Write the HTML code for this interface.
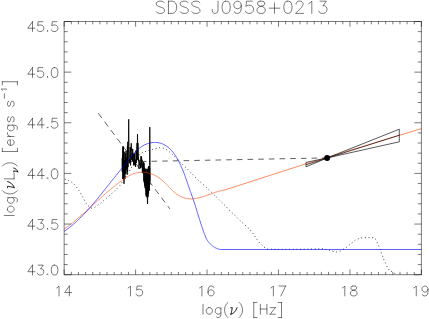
<!DOCTYPE html>
<html><head><meta charset="utf-8"><title>SDSS J0958+0213</title>
<style>
html,body{margin:0;padding:0;background:#fff;}
body{width:429px;height:319px;overflow:hidden;font-family:"Liberation Sans",sans-serif;}
svg{display:block;}
</style></head><body>
<svg width="429" height="319" viewBox="0 0 429 319">
<rect width="429" height="319" fill="#fff"/>
<!-- spectrum -->
<path d="M122.10 158.13 L122.27 171.83 L122.51 155.16 L122.73 168.84 L122.95 147.25 L122.86 178.94 L123.06 146.00 L123.26 178.94 L123.21 178.94 L123.39 148.27 L123.64 172.06 L123.88 161.14 L123.80 174.67 L124.00 183.80 L124.20 174.67 L124.06 174.67 L124.24 151.70 L124.50 174.61 L124.70 160.12 L124.88 178.87 L125.11 160.85 L125.32 173.75 L125.58 152.93 L125.81 173.26 L126.07 150.89 L126.28 170.06 L126.53 159.51 L126.73 167.22 L126.94 157.27 L127.13 174.78 L127.40 145.87 L127.62 171.87 L127.56 152.07 L127.76 141.80 L127.96 152.07 L127.83 152.07 L128.04 167.17 L128.22 163.75 L128.46 149.37 L128.40 146.51 L128.70 119.30 L129.00 146.51 L128.72 146.51 L128.98 148.85 L129.22 162.41 L129.46 159.27 L129.72 163.27 L129.99 151.19 L130.19 146.89 L130.41 163.97 L130.58 165.40 L130.83 149.98 L131.04 147.43 L131.05 151.40 L131.25 143.20 L131.45 151.40 L131.29 151.40 L131.54 159.32 L131.78 158.37 L132.02 160.28 L132.22 152.92 L132.43 161.21 L132.67 148.81 L132.90 151.94 L133.15 154.41 L133.35 153.76 L133.55 157.91 L133.73 165.45 L134.00 154.24 L134.23 164.11 L134.46 153.24 L134.72 165.31 L134.93 160.78 L135.13 164.40 L135.37 159.68 L135.59 167.03 L135.80 158.62 L136.03 150.43 L136.29 163.06 L136.49 161.19 L136.72 158.11 L136.98 151.02 L137.22 160.15 L137.45 153.41 L136.55 159.45 L137.07 142.97 L137.12 158.45 L137.50 134.10 L137.88 158.45 L137.93 142.97 L138.45 159.45 L137.63 159.45 L137.89 157.38 L138.12 159.07 L138.36 157.53 L138.56 160.92 L138.80 159.51 L139.01 168.92 L139.28 160.37 L139.51 162.63 L139.71 164.78 L139.91 163.88 L140.11 165.75 L140.36 164.52 L140.55 168.25 L140.74 159.18 L140.94 156.23 L141.18 167.60 L141.44 156.38 L141.61 157.21 L141.83 164.11 L142.06 159.73 L142.29 172.74 L142.55 172.96 L142.77 163.34 L142.96 171.91 L143.15 163.59 L143.40 173.47 L143.66 161.98 L143.84 181.17 L144.05 163.20 L144.24 182.90 L144.46 167.63 L144.65 185.63 L144.89 168.93 L145.06 187.92 L145.27 170.13 L145.45 189.40 L145.71 168.77 L145.98 195.50 L146.19 168.83 L146.39 196.83 L146.62 172.28 L146.81 196.85 L147.05 173.60 L147.25 197.52 L147.45 168.81 L147.20 194.82 L147.50 204.00 L147.80 194.82 L147.68 194.82 L147.92 169.73 L148.17 196.68 L148.37 166.71 L148.56 193.48 L148.78 166.10 L148.96 190.97 L149.18 166.91 L149.36 190.18 L149.59 167.70 L149.80 184.69 L149.50 165.68 L149.80 127.10 L150.10 165.68 L150.06 165.68 L150.24 181.10" fill="none" stroke="#000" stroke-width="0.85" stroke-linejoin="miter" stroke-miterlimit="20"/>
<!-- model curves -->
<path d="M64.90 179.20 L68.20 180.20 L71.30 182.00 L74.10 184.10 L76.70 187.40 L78.80 190.50 L80.80 193.70 L82.60 196.80 L84.30 199.90 L86.10 203.20 L88.20 205.70 L91.30 208.10 L94.60 207.40 L97.40 205.30 L100.50 203.50 L103.10 201.10 L105.90 198.70 L108.70 196.10 L111.50 193.70 L114.40 191.20 L117.20 188.40 L120.00 185.50 L130.00 170.00 L140.40 153.40 L143.90 152.00 L148.10 150.60 L152.40 149.50 L155.90 148.50 L159.40 147.70 L163.60 148.30 L167.20 150.00 L170.70 153.00 L174.50 156.40 L178.20 160.10 L182.90 164.80 L187.60 169.20 L193.30 175.20 L198.90 180.80 L206.50 187.50 L215.90 196.50 L225.30 205.80 L230.50 211.50 L235.20 215.60 L239.90 220.40 L244.60 224.70 L249.30 228.80 L253.10 233.50 L255.90 237.90 L259.60 242.90 L263.40 246.70 L267.20 249.00 L275.00 249.40 L300.00 249.30 L318.00 248.80 L324.00 248.80 L329.60 250.40 L333.40 251.50 L336.60 251.90 L340.40 251.00 L343.60 249.10 L346.60 247.20 L349.40 244.80 L352.60 242.30 L355.40 240.10 L358.60 238.60 L362.40 237.80 L366.10 237.60 L369.90 237.60 L373.70 237.80 L376.10 239.70 L377.40 242.90 L378.90 246.30 L380.30 249.50 L381.40 253.20 L382.70 256.60 L384.20 260.40 L385.90 264.00 L387.40 267.40 L389.30 270.20 L392.10 271.80 L394.90 273.60 L396.00 274.30" fill="none" stroke="#000" stroke-width="0.85" stroke-dasharray="0.85 2.8" stroke-linecap="butt"/>
<path d="M64.22 229.10 L64.75 228.71 L65.27 228.33 L65.79 227.95 L66.30 227.56 L66.82 227.18 L67.33 226.79 L67.85 226.40 L68.36 226.01 L68.86 225.62 L69.37 225.23 L69.88 224.83 L70.38 224.44 L70.89 224.04 L71.39 223.64 L71.89 223.24 L72.39 222.84 L72.88 222.44 L73.38 222.04 L73.87 221.63 L74.37 221.23 L74.86 220.82 L75.35 220.42 L75.84 220.01 L76.33 219.60 L76.82 219.19 L77.30 218.78 L77.79 218.37 L78.27 217.96 L78.75 217.55 L79.24 217.13 L79.72 216.72 L80.20 216.30 L80.68 215.89 L81.16 215.47 L81.64 215.06 L82.11 214.64 L82.59 214.22 L83.07 213.80 L83.54 213.38 L84.02 212.96 L84.49 212.54 L84.96 212.12 L85.44 211.70 L85.91 211.28 L86.38 210.85 L86.85 210.43 L87.32 210.01 L87.79 209.59 L88.27 209.16 L88.74 208.74 L89.21 208.31 L89.67 207.89 L90.14 207.46 L90.61 207.04 L91.08 206.61 L91.55 206.19 L92.02 205.76 L92.49 205.34 L92.96 204.91 L93.43 204.49 L93.89 204.06 L94.36 203.64 L94.83 203.21 L95.30 202.79 L95.77 202.36 L96.24 201.94 L96.71 201.51 L97.18 201.08 L97.65 200.66 L98.12 200.24 L98.59 199.81 L99.06 199.39 L99.53 198.96 L100.01 198.54 L100.48 198.12 L100.95 197.69 L101.43 197.27 L101.90 196.85 L102.38 196.43 L102.85 196.01 L103.33 195.59 L103.80 195.16 L104.28 194.75 L104.76 194.33 L105.24 193.91 L105.72 193.49 L106.20 193.07 L106.68 192.66 L107.16 192.24 L107.65 191.82 L108.13 191.41 L108.62 190.99 L109.11 190.58 L109.59 190.17 L110.08 189.76 L110.57 189.35 L111.06 188.94 L111.56 188.53 L112.05 188.12 L112.54 187.71 L113.04 187.31 L113.54 186.90 L114.04 186.50 L114.54 186.09 L115.04 185.69 L115.54 185.29 L116.05 184.89 L116.55 184.49 L117.06 184.10 L117.57 183.70 L118.08 183.30 L118.60 182.91 L119.11 182.52 L119.63 182.13 L120.14 181.74 L120.66 181.35 L121.19 180.96 L121.71 180.58 L122.23 180.20 L122.76 179.82 L123.29 179.45 L123.82 179.08 L124.36 178.71 L124.90 178.36 L125.43 178.00 L125.98 177.66 L126.52 177.32 L127.07 176.98 L127.62 176.66 L128.17 176.34 L128.73 176.03 L129.29 175.73 L129.85 175.44 L130.41 175.16 L130.98 174.89 L131.55 174.63 L132.13 174.38 L132.70 174.14 L133.29 173.91 L133.87 173.70 L134.46 173.50 L135.05 173.32 L135.65 173.14 L136.25 172.99 L136.85 172.84 L137.46 172.71 L138.07 172.60 L138.69 172.51 L139.31 172.43 L139.93 172.36 L140.56 172.31 L141.19 172.28 L141.82 172.26 L142.45 172.26 L143.08 172.28 L143.72 172.31 L144.35 172.35 L144.98 172.41 L145.61 172.48 L146.25 172.57 L146.88 172.68 L147.50 172.79 L148.13 172.93 L148.75 173.07 L149.37 173.23 L149.98 173.41 L150.59 173.60 L151.19 173.80 L151.79 174.01 L152.38 174.24 L152.97 174.48 L153.55 174.74 L154.13 175.01 L154.69 175.29 L155.26 175.58 L155.81 175.88 L156.36 176.20 L156.91 176.52 L157.45 176.86 L157.98 177.20 L158.51 177.56 L159.03 177.92 L159.55 178.30 L160.07 178.68 L160.57 179.07 L161.08 179.47 L161.58 179.87 L162.07 180.28 L162.56 180.70 L163.05 181.13 L163.53 181.56 L164.01 182.00 L164.48 182.44 L164.95 182.89 L165.42 183.34 L165.88 183.80 L166.34 184.26 L166.79 184.72 L167.24 185.19 L167.69 185.66 L168.14 186.13 L168.59 186.60 L169.04 187.07 L169.48 187.54 L169.93 188.01 L170.38 188.48 L170.82 188.94 L171.27 189.40 L171.73 189.86 L172.18 190.31 L172.64 190.76 L173.11 191.20 L173.58 191.63 L174.05 192.05 L174.53 192.47 L175.02 192.88 L175.51 193.27 L176.01 193.66 L176.52 194.04 L177.04 194.40 L177.56 194.75 L178.10 195.09 L178.64 195.42 L179.19 195.73 L179.74 196.03 L180.30 196.32 L180.87 196.59 L181.44 196.85 L182.02 197.09 L182.60 197.32 L183.19 197.54 L183.78 197.74 L184.38 197.92 L184.98 198.09 L185.58 198.24 L186.19 198.38 L186.80 198.50 L187.41 198.60 L188.02 198.68 L188.63 198.75 L189.25 198.80 L189.87 198.84 L190.48 198.86 L191.10 198.86 L191.72 198.85 L192.35 198.82 L192.97 198.78 L193.59 198.73 L194.21 198.67 L194.84 198.59 L195.47 198.50 L196.09 198.40 L196.72 198.29 L197.34 198.16 L197.97 198.03 L198.60 197.89 L199.23 197.74 L199.86 197.58 L200.49 197.41 L201.11 197.24 L201.74 197.06 L202.37 196.87 L203.00 196.68 L203.63 196.48 L204.26 196.27 L204.88 196.06 L205.51 195.85 L206.14 195.63 L206.76 195.42 L207.39 195.19 L208.01 194.97 L208.64 194.75 L209.26 194.52 L209.88 194.29 L210.50 194.07 L211.12 193.84 L211.74 193.62 L212.36 193.39 L212.98 193.17 L213.59 192.95 L214.20 192.73 L214.82 192.52 L215.43 192.31 L216.04 192.11 L216.64 191.91 L217.25 191.72 L217.85 191.53 L218.46 191.35 L219.06 191.17 L219.65 191.00 L220.25 190.84 L220.84 190.69 L221.44 190.55 L222.02 190.42 L222.61 190.29 L223.20 190.18 L223.78 190.08 L224.36 189.99 L224.93 189.91 L305 164.1 L421.5 128.6" fill="none" stroke="#ff4500" stroke-width="0.62" stroke-linejoin="round"/>
<path d="M64.21 231.41 L65.22 230.69 L66.22 229.97 L67.21 229.23 L68.18 228.49 L69.15 227.74 L70.11 226.97 L71.07 226.20 L72.01 225.41 L72.95 224.62 L73.88 223.82 L74.80 223.01 L75.71 222.20 L76.61 221.37 L77.51 220.54 L78.40 219.70 L79.29 218.85 L80.16 218.00 L81.04 217.14 L81.90 216.27 L82.76 215.39 L83.61 214.51 L84.46 213.62 L85.30 212.73 L86.14 211.83 L86.97 210.93 L87.79 210.02 L88.61 209.11 L89.43 208.19 L90.24 207.27 L91.05 206.34 L91.86 205.41 L92.66 204.48 L93.45 203.54 L94.25 202.60 L95.03 201.66 L95.82 200.71 L96.61 199.76 L97.39 198.81 L98.17 197.86 L98.94 196.90 L99.72 195.94 L100.49 194.98 L101.26 194.02 L102.03 193.06 L102.79 192.10 L103.56 191.14 L104.32 190.18 L105.09 189.21 L105.85 188.25 L106.62 187.29 L107.38 186.33 L108.14 185.37 L108.90 184.41 L109.67 183.45 L110.43 182.49 L111.19 181.54 L111.96 180.58 L112.72 179.63 L113.49 178.68 L114.25 177.73 L115.02 176.78 L115.79 175.83 L116.56 174.88 L117.32 173.93 L118.09 172.98 L118.86 172.03 L119.63 171.08 L120.40 170.13 L121.17 169.18 L121.94 168.22 L122.71 167.27 L123.48 166.31 L124.25 165.36 L125.02 164.40 L125.79 163.44 L126.57 162.47 L127.34 161.51 L128.11 160.54 L128.88 159.57 L129.66 158.60 L130.43 157.62 L131.21 156.66 L132.00 155.70 L132.80 154.75 L133.61 153.82 L134.43 152.90 L135.27 152.00 L136.13 151.12 L137.00 150.27 L137.90 149.44 L138.81 148.65 L139.76 147.89 L140.73 147.17 L141.73 146.48 L142.76 145.84 L143.83 145.25 L144.93 144.70 L146.06 144.21 L147.22 143.77 L148.40 143.38 L149.60 143.06 L150.82 142.80 L152.04 142.60 L153.27 142.47 L154.50 142.41 L155.72 142.42 L156.93 142.51 L158.13 142.67 L159.31 142.91 L160.47 143.21 L161.61 143.59 L162.73 144.03 L163.82 144.53 L164.89 145.09 L165.93 145.71 L166.93 146.38 L167.90 147.11 L168.84 147.88 L169.74 148.70 L170.62 149.56 L171.46 150.45 L172.28 151.38 L173.06 152.35 L173.82 153.34 L174.56 154.36 L175.26 155.40 L175.95 156.46 L176.61 157.53 L177.25 158.62 L177.86 159.71 L178.46 160.81 L179.04 161.92 L179.60 163.03 L180.14 164.14 L180.66 165.25 L181.17 166.37 L181.67 167.49 L182.15 168.62 L182.62 169.75 L183.07 170.88 L183.52 172.01 L183.96 173.14 L184.38 174.28 L184.80 175.42 L185.22 176.56 L185.62 177.71 L186.03 178.85 L186.43 180.00 L186.82 181.15 L187.22 182.30 L187.61 183.45 L188.00 184.60 L188.40 185.75 L188.79 186.91 L189.19 188.06 L189.59 189.22 L190.00 190.37 L190.41 191.53 L190.83 192.69 L191.24 193.84 L191.66 195.00 L192.08 196.16 L192.49 197.32 L192.90 198.48 L193.30 199.65 L193.69 200.81 L194.08 201.98 L194.46 203.15 L194.84 204.32 L195.22 205.49 L195.59 206.66 L195.96 207.83 L196.32 209.01 L196.68 210.18 L197.04 211.35 L197.40 212.53 L197.76 213.70 L198.12 214.87 L198.48 216.04 L198.84 217.22 L199.21 218.39 L199.57 219.56 L199.94 220.73 L200.31 221.90 L200.68 223.07 L201.06 224.23 L201.44 225.40 L201.83 226.56 L202.22 227.72 L202.62 228.88 L203.03 230.04 L203.44 231.19 L203.86 232.35 L204.29 233.50 L204.73 234.64 L205.18 235.79 L205.64 236.93 L206.11 238.07 L206.59 239.20 M206.61 239.20 L206.86 239.59 L207.12 239.97 L207.39 240.36 L207.66 240.74 L207.94 241.12 L208.23 241.50 L208.52 241.87 L208.82 242.24 L209.12 242.61 L209.44 242.97 L209.75 243.32 L210.08 243.67 L210.41 244.01 L210.74 244.35 L211.09 244.67 L211.43 245.00 L211.79 245.31 L212.15 245.62 L212.52 245.91 L212.89 246.20 L213.27 246.48 L213.65 246.75 L214.04 247.01 L214.44 247.26 L214.84 247.50 L215.25 247.73 L215.67 247.94 L216.09 248.15 L216.52 248.34 L216.95 248.52 L217.39 248.68 L217.83 248.83 L218.28 248.97 L218.74 249.10 L219.20 249.21 L219.67 249.30 L220.14 249.38 L220.62 249.45 L221.11 249.49 L230 249.5 L421.5 249.5" fill="none" stroke="#0000ff" stroke-width="0.62" stroke-linejoin="round"/>
<!-- dashed lines -->
<path d="M98.2 113.2 L169.8 208.8" fill="none" stroke="#000" stroke-width="0.62" stroke-dasharray="6.1 4.45"/>
<path d="M130.2 161.7 L327.3 157.9" fill="none" stroke="#000" stroke-width="0.62" stroke-dasharray="5.6 5.07"/>
<!-- x-ray bowtie -->
<path d="M306 162.4 L327.3 157.9 L399.3 141.8 L399.3 129.2 L327.3 157.9 L306 166.8 Z M306 164.8 L399.3 135.2" fill="none" stroke="#000" stroke-width="0.65"/>
<circle cx="327.1" cy="157.9" r="3" fill="#000"/>
<!-- axes -->
<path d="M64.15 21.50 H421.40 V274.70 H64.15 Z M64.15 274.70 v-5.20 M64.15 21.50 v5.20 M71.30 274.70 v-2.80 M71.30 21.50 v2.80 M78.44 274.70 v-2.80 M78.44 21.50 v2.80 M85.59 274.70 v-2.80 M85.59 21.50 v2.80 M92.73 274.70 v-2.80 M92.73 21.50 v2.80 M99.88 274.70 v-2.80 M99.88 21.50 v2.80 M107.02 274.70 v-2.80 M107.02 21.50 v2.80 M114.17 274.70 v-2.80 M114.17 21.50 v2.80 M121.31 274.70 v-2.80 M121.31 21.50 v2.80 M128.46 274.70 v-2.80 M128.46 21.50 v2.80 M135.60 274.70 v-5.20 M135.60 21.50 v5.20 M142.75 274.70 v-2.80 M142.75 21.50 v2.80 M149.89 274.70 v-2.80 M149.89 21.50 v2.80 M157.04 274.70 v-2.80 M157.04 21.50 v2.80 M164.18 274.70 v-2.80 M164.18 21.50 v2.80 M171.32 274.70 v-2.80 M171.32 21.50 v2.80 M178.47 274.70 v-2.80 M178.47 21.50 v2.80 M185.62 274.70 v-2.80 M185.62 21.50 v2.80 M192.76 274.70 v-2.80 M192.76 21.50 v2.80 M199.91 274.70 v-2.80 M199.91 21.50 v2.80 M207.05 274.70 v-5.20 M207.05 21.50 v5.20 M214.19 274.70 v-2.80 M214.19 21.50 v2.80 M221.34 274.70 v-2.80 M221.34 21.50 v2.80 M228.49 274.70 v-2.80 M228.49 21.50 v2.80 M235.63 274.70 v-2.80 M235.63 21.50 v2.80 M242.78 274.70 v-2.80 M242.78 21.50 v2.80 M249.92 274.70 v-2.80 M249.92 21.50 v2.80 M257.06 274.70 v-2.80 M257.06 21.50 v2.80 M264.21 274.70 v-2.80 M264.21 21.50 v2.80 M271.36 274.70 v-2.80 M271.36 21.50 v2.80 M278.50 274.70 v-5.20 M278.50 21.50 v5.20 M285.64 274.70 v-2.80 M285.64 21.50 v2.80 M292.79 274.70 v-2.80 M292.79 21.50 v2.80 M299.94 274.70 v-2.80 M299.94 21.50 v2.80 M307.08 274.70 v-2.80 M307.08 21.50 v2.80 M314.23 274.70 v-2.80 M314.23 21.50 v2.80 M321.37 274.70 v-2.80 M321.37 21.50 v2.80 M328.51 274.70 v-2.80 M328.51 21.50 v2.80 M335.66 274.70 v-2.80 M335.66 21.50 v2.80 M342.80 274.70 v-2.80 M342.80 21.50 v2.80 M349.95 274.70 v-5.20 M349.95 21.50 v5.20 M357.10 274.70 v-2.80 M357.10 21.50 v2.80 M364.24 274.70 v-2.80 M364.24 21.50 v2.80 M371.38 274.70 v-2.80 M371.38 21.50 v2.80 M378.53 274.70 v-2.80 M378.53 21.50 v2.80 M385.67 274.70 v-2.80 M385.67 21.50 v2.80 M392.82 274.70 v-2.80 M392.82 21.50 v2.80 M399.97 274.70 v-2.80 M399.97 21.50 v2.80 M407.11 274.70 v-2.80 M407.11 21.50 v2.80 M414.25 274.70 v-2.80 M414.25 21.50 v2.80 M421.40 274.70 v-5.20 M421.40 21.50 v5.20 M64.15 274.70 h7.10 M421.40 274.70 h-7.10 M64.15 264.57 h3.60 M421.40 264.57 h-3.60 M64.15 254.44 h3.60 M421.40 254.44 h-3.60 M64.15 244.32 h3.60 M421.40 244.32 h-3.60 M64.15 234.19 h3.60 M421.40 234.19 h-3.60 M64.15 224.06 h7.10 M421.40 224.06 h-7.10 M64.15 213.93 h3.60 M421.40 213.93 h-3.60 M64.15 203.80 h3.60 M421.40 203.80 h-3.60 M64.15 193.68 h3.60 M421.40 193.68 h-3.60 M64.15 183.55 h3.60 M421.40 183.55 h-3.60 M64.15 173.42 h7.10 M421.40 173.42 h-7.10 M64.15 163.29 h3.60 M421.40 163.29 h-3.60 M64.15 153.16 h3.60 M421.40 153.16 h-3.60 M64.15 143.04 h3.60 M421.40 143.04 h-3.60 M64.15 132.91 h3.60 M421.40 132.91 h-3.60 M64.15 122.78 h7.10 M421.40 122.78 h-7.10 M64.15 112.65 h3.60 M421.40 112.65 h-3.60 M64.15 102.52 h3.60 M421.40 102.52 h-3.60 M64.15 92.40 h3.60 M421.40 92.40 h-3.60 M64.15 82.27 h3.60 M421.40 82.27 h-3.60 M64.15 72.14 h7.10 M421.40 72.14 h-7.10 M64.15 62.01 h3.60 M421.40 62.01 h-3.60 M64.15 51.88 h3.60 M421.40 51.88 h-3.60 M64.15 41.76 h3.60 M421.40 41.76 h-3.60 M64.15 31.63 h3.60 M421.40 31.63 h-3.60 M64.15 21.50 h7.10 M421.40 21.50 h-7.10" fill="none" stroke="#000" stroke-width="0.52"/>
<!-- text -->
<path d="M164.40 2.91 L163.24 1.75 L161.49 1.17 L159.16 1.17 L157.41 1.75 L156.25 2.91 L156.25 4.08 L156.83 5.24 L157.41 5.83 L158.58 6.41 L162.07 7.57 L163.24 8.16 L163.82 8.74 L164.40 9.90 L164.40 11.65 L163.24 12.82 L161.49 13.40 L159.16 13.40 L157.41 12.82 L156.25 11.65 M168.48 1.17 L168.48 13.40 M168.48 1.17 L172.56 1.17 L174.31 1.75 L175.47 2.91 L176.06 4.08 L176.64 5.83 L176.64 8.74 L176.06 10.49 L175.47 11.65 L174.31 12.82 L172.56 13.40 L168.48 13.40 M188.29 2.91 L187.13 1.75 L185.38 1.17 L183.05 1.17 L181.30 1.75 L180.13 2.91 L180.13 4.08 L180.72 5.24 L181.30 5.83 L182.46 6.41 L185.96 7.57 L187.13 8.16 L187.71 8.74 L188.29 9.90 L188.29 11.65 L187.13 12.82 L185.38 13.40 L183.05 13.40 L181.30 12.82 L180.13 11.65 M199.94 2.91 L198.78 1.75 L197.03 1.17 L194.70 1.17 L192.95 1.75 L191.79 2.91 L191.79 4.08 L192.37 5.24 L192.95 5.83 L194.12 6.41 L197.61 7.57 L198.78 8.16 L199.36 8.74 L199.94 9.90 L199.94 11.65 L198.78 12.82 L197.03 13.40 L194.70 13.40 L192.95 12.82 L191.79 11.65 M218.00 1.17 L218.00 10.49 L217.42 12.23 L216.84 12.82 L215.67 13.40 L214.51 13.40 L213.34 12.82 L212.76 12.23 L212.18 10.49 L212.18 9.32 M225.58 1.17 L223.83 1.75 L222.66 3.50 L222.08 6.41 L222.08 8.16 L222.66 11.07 L223.83 12.82 L225.58 13.40 L226.74 13.40 L228.49 12.82 L229.66 11.07 L230.24 8.16 L230.24 6.41 L229.66 3.50 L228.49 1.75 L226.74 1.17 L225.58 1.17 M241.31 5.24 L240.72 6.99 L239.56 8.16 L237.81 8.74 L237.23 8.74 L235.48 8.16 L234.32 6.99 L233.73 5.24 L233.73 4.66 L234.32 2.91 L235.48 1.75 L237.23 1.17 L237.81 1.17 L239.56 1.75 L240.72 2.91 L241.31 5.24 L241.31 8.16 L240.72 11.07 L239.56 12.82 L237.81 13.40 L236.65 13.40 L234.90 12.82 L234.32 11.65 M252.38 1.17 L246.55 1.17 L245.97 6.41 L246.55 5.83 L248.30 5.24 L250.05 5.24 L251.79 5.83 L252.96 6.99 L253.54 8.74 L253.54 9.90 L252.96 11.65 L251.79 12.82 L250.05 13.40 L248.30 13.40 L246.55 12.82 L245.97 12.23 L245.39 11.07 M259.95 1.17 L258.20 1.75 L257.62 2.91 L257.62 4.08 L258.20 5.24 L259.37 5.83 L261.70 6.41 L263.45 6.99 L264.61 8.16 L265.19 9.32 L265.19 11.07 L264.61 12.23 L264.03 12.82 L262.28 13.40 L259.95 13.40 L258.20 12.82 L257.62 12.23 L257.04 11.07 L257.04 9.32 L257.62 8.16 L258.79 6.99 L260.53 6.41 L262.86 5.83 L264.03 5.24 L264.61 4.08 L264.61 2.91 L264.03 1.75 L262.28 1.17 L259.95 1.17 M274.52 2.91 L274.52 13.40 M269.27 8.16 L279.76 8.16 M287.33 1.17 L285.58 1.75 L284.42 3.50 L283.84 6.41 L283.84 8.16 L284.42 11.07 L285.58 12.82 L287.33 13.40 L288.50 13.40 L290.25 12.82 L291.41 11.07 L291.99 8.16 L291.99 6.41 L291.41 3.50 L290.25 1.75 L288.50 1.17 L287.33 1.17 M296.07 4.08 L296.07 3.50 L296.65 2.33 L297.24 1.75 L298.40 1.17 L300.73 1.17 L301.90 1.75 L302.48 2.33 L303.06 3.50 L303.06 4.66 L302.48 5.83 L301.32 7.57 L295.49 13.40 L303.65 13.40 M308.89 3.50 L310.05 2.91 L311.80 1.17 L311.80 13.40 M319.96 1.17 L326.37 1.17 L322.87 5.83 L324.62 5.83 L325.78 6.41 L326.37 6.99 L326.95 8.74 L326.95 9.90 L326.37 11.65 L325.20 12.82 L323.45 13.40 L321.71 13.40 L319.96 12.82 L319.38 12.23 L318.79 11.07 M56.67 287.91 L57.61 287.44 L59.02 286.03 L59.02 295.90 M69.36 286.03 L64.66 292.61 L71.71 292.61 M69.36 286.03 L69.36 295.90 M128.12 287.91 L129.06 287.44 L130.47 286.03 L130.47 295.90 M141.75 286.03 L137.05 286.03 L136.58 290.26 L137.05 289.79 L138.46 289.32 L139.87 289.32 L141.28 289.79 L142.22 290.73 L142.69 292.14 L142.69 293.08 L142.22 294.49 L141.28 295.43 L139.87 295.90 L138.46 295.90 L137.05 295.43 L136.58 294.96 L136.11 294.02 M199.57 287.91 L200.51 287.44 L201.92 286.03 L201.92 295.90 M213.67 287.44 L213.20 286.50 L211.79 286.03 L210.85 286.03 L209.44 286.50 L208.50 287.91 L208.03 290.26 L208.03 292.61 L208.50 294.49 L209.44 295.43 L210.85 295.90 L211.32 295.90 L212.73 295.43 L213.67 294.49 L214.14 293.08 L214.14 292.61 L213.67 291.20 L212.73 290.26 L211.32 289.79 L210.85 289.79 L209.44 290.26 L208.50 291.20 L208.03 292.61 M271.02 287.91 L271.96 287.44 L273.37 286.03 L273.37 295.90 M285.59 286.03 L280.89 295.90 M279.01 286.03 L285.59 286.03 M342.47 287.91 L343.41 287.44 L344.82 286.03 L344.82 295.90 M352.81 286.03 L351.40 286.50 L350.93 287.44 L350.93 288.38 L351.40 289.32 L352.34 289.79 L354.22 290.26 L355.63 290.73 L356.57 291.67 L357.04 292.61 L357.04 294.02 L356.57 294.96 L356.10 295.43 L354.69 295.90 L352.81 295.90 L351.40 295.43 L350.93 294.96 L350.46 294.02 L350.46 292.61 L350.93 291.67 L351.87 290.73 L353.28 290.26 L355.16 289.79 L356.10 289.32 L356.57 288.38 L356.57 287.44 L356.10 286.50 L354.69 286.03 L352.81 286.03 M413.92 287.91 L414.86 287.44 L416.27 286.03 L416.27 295.90 M428.02 289.32 L427.55 290.73 L426.61 291.67 L425.20 292.14 L424.73 292.14 L423.32 291.67 L422.38 290.73 L421.91 289.32 L421.91 288.85 L422.38 287.44 L423.32 286.50 L424.73 286.03 L425.20 286.03 L426.61 286.50 L427.55 287.44 L428.02 289.32 L428.02 291.67 L427.55 294.02 L426.61 295.43 L425.20 295.90 L424.26 295.90 L422.85 295.43 L422.38 294.49 M32.51 265.13 L27.81 271.71 L34.86 271.71 M32.51 265.13 L32.51 275.00 M38.15 265.13 L43.32 265.13 L40.50 268.89 L41.91 268.89 L42.85 269.36 L43.32 269.83 L43.79 271.24 L43.79 272.18 L43.32 273.59 L42.38 274.53 L40.97 275.00 L39.56 275.00 L38.15 274.53 L37.68 274.06 L37.21 273.12 M47.55 274.06 L47.08 274.53 L47.55 275.00 L48.02 274.53 L47.55 274.06 M54.13 265.13 L52.72 265.60 L51.78 267.01 L51.31 269.36 L51.31 270.77 L51.78 273.12 L52.72 274.53 L54.13 275.00 L55.07 275.00 L56.48 274.53 L57.42 273.12 L57.89 270.77 L57.89 269.36 L57.42 267.01 L56.48 265.60 L55.07 265.13 L54.13 265.13 M32.51 219.54 L27.81 226.12 L34.86 226.12 M32.51 219.54 L32.51 229.41 M38.15 219.54 L43.32 219.54 L40.50 223.30 L41.91 223.30 L42.85 223.77 L43.32 224.24 L43.79 225.65 L43.79 226.59 L43.32 228.00 L42.38 228.94 L40.97 229.41 L39.56 229.41 L38.15 228.94 L37.68 228.47 L37.21 227.53 M47.55 228.47 L47.08 228.94 L47.55 229.41 L48.02 228.94 L47.55 228.47 M56.95 219.54 L52.25 219.54 L51.78 223.77 L52.25 223.30 L53.66 222.83 L55.07 222.83 L56.48 223.30 L57.42 224.24 L57.89 225.65 L57.89 226.59 L57.42 228.00 L56.48 228.94 L55.07 229.41 L53.66 229.41 L52.25 228.94 L51.78 228.47 L51.31 227.53 M32.51 168.90 L27.81 175.48 L34.86 175.48 M32.51 168.90 L32.51 178.77 M41.91 168.90 L37.21 175.48 L44.26 175.48 M41.91 168.90 L41.91 178.77 M47.55 177.83 L47.08 178.30 L47.55 178.77 L48.02 178.30 L47.55 177.83 M54.13 168.90 L52.72 169.37 L51.78 170.78 L51.31 173.13 L51.31 174.54 L51.78 176.89 L52.72 178.30 L54.13 178.77 L55.07 178.77 L56.48 178.30 L57.42 176.89 L57.89 174.54 L57.89 173.13 L57.42 170.78 L56.48 169.37 L55.07 168.90 L54.13 168.90 M32.51 118.26 L27.81 124.84 L34.86 124.84 M32.51 118.26 L32.51 128.13 M41.91 118.26 L37.21 124.84 L44.26 124.84 M41.91 118.26 L41.91 128.13 M47.55 127.19 L47.08 127.66 L47.55 128.13 L48.02 127.66 L47.55 127.19 M56.95 118.26 L52.25 118.26 L51.78 122.49 L52.25 122.02 L53.66 121.55 L55.07 121.55 L56.48 122.02 L57.42 122.96 L57.89 124.37 L57.89 125.31 L57.42 126.72 L56.48 127.66 L55.07 128.13 L53.66 128.13 L52.25 127.66 L51.78 127.19 L51.31 126.25 M32.51 67.62 L27.81 74.20 L34.86 74.20 M32.51 67.62 L32.51 77.49 M42.85 67.62 L38.15 67.62 L37.68 71.85 L38.15 71.38 L39.56 70.91 L40.97 70.91 L42.38 71.38 L43.32 72.32 L43.79 73.73 L43.79 74.67 L43.32 76.08 L42.38 77.02 L40.97 77.49 L39.56 77.49 L38.15 77.02 L37.68 76.55 L37.21 75.61 M47.55 76.55 L47.08 77.02 L47.55 77.49 L48.02 77.02 L47.55 76.55 M54.13 67.62 L52.72 68.09 L51.78 69.50 L51.31 71.85 L51.31 73.26 L51.78 75.61 L52.72 77.02 L54.13 77.49 L55.07 77.49 L56.48 77.02 L57.42 75.61 L57.89 73.26 L57.89 71.85 L57.42 69.50 L56.48 68.09 L55.07 67.62 L54.13 67.62 M32.51 21.68 L27.81 28.26 L34.86 28.26 M32.51 21.68 L32.51 31.55 M42.85 21.68 L38.15 21.68 L37.68 25.91 L38.15 25.44 L39.56 24.97 L40.97 24.97 L42.38 25.44 L43.32 26.38 L43.79 27.79 L43.79 28.73 L43.32 30.14 L42.38 31.08 L40.97 31.55 L39.56 31.55 L38.15 31.08 L37.68 30.61 L37.21 29.67 M47.55 30.61 L47.08 31.08 L47.55 31.55 L48.02 31.08 L47.55 30.61 M56.95 21.68 L52.25 21.68 L51.78 25.91 L52.25 25.44 L53.66 24.97 L55.07 24.97 L56.48 25.44 L57.42 26.38 L57.89 27.79 L57.89 28.73 L57.42 30.14 L56.48 31.08 L55.07 31.55 L53.66 31.55 L52.25 31.08 L51.78 30.61 L51.31 29.67 M203.00 304.33 L203.00 314.20 M208.64 307.62 L207.70 308.09 L206.76 309.03 L206.29 310.44 L206.29 311.38 L206.76 312.79 L207.70 313.73 L208.64 314.20 L210.06 314.20 L211.00 313.73 L211.94 312.79 L212.41 311.38 L212.41 310.44 L211.94 309.03 L211.00 308.09 L210.06 307.62 L208.64 307.62 M220.87 307.62 L220.87 315.14 L220.40 316.55 L219.93 317.02 L218.99 317.49 L217.57 317.49 L216.63 317.02 M220.87 309.03 L219.93 308.09 L218.99 307.62 L217.57 307.62 L216.63 308.09 L215.69 309.03 L215.22 310.44 L215.22 311.38 L215.69 312.79 L216.63 313.73 L217.57 314.20 L218.99 314.20 L219.93 313.73 L220.87 312.79 M227.91 302.45 L226.97 303.39 L226.03 304.80 L225.09 306.68 L224.62 309.03 L224.62 310.91 L225.09 313.26 L226.03 315.14 L226.97 316.55 L227.91 317.49 M230.74 307.62 L232.15 307.62 L231.68 310.44 L231.21 312.79 L230.74 314.20 M236.84 307.62 L236.38 309.03 L235.91 309.97 L234.97 311.38 L233.56 312.79 L232.15 313.73 L230.74 314.20 M230.95 307.62 L232.36 307.62 L231.89 310.44 L231.42 312.79 L230.95 314.20 M237.06 307.62 L236.59 309.03 L236.12 309.97 L235.18 311.38 L233.77 312.79 L232.36 313.73 L230.95 314.20 M239.20 302.45 L240.14 303.39 L241.08 304.80 L242.02 306.68 L242.49 309.03 L242.49 310.91 L242.02 313.26 L241.08 315.14 L240.14 316.55 L239.20 317.49 M253.77 302.45 L253.77 317.49 M253.77 302.45 L257.06 302.45 M253.77 317.49 L257.06 317.49 M260.35 304.33 L260.35 314.20 M266.93 304.33 L266.93 314.20 M260.35 309.03 L266.93 309.03 M275.38 307.62 L270.22 314.20 M270.22 307.62 L275.38 307.62 M270.22 314.20 L275.38 314.20 M281.50 302.45 L281.50 317.49 M278.21 302.45 L281.50 302.45 M278.21 317.49 L281.50 317.49" stroke="#000" stroke-width="0.52" fill="none" stroke-linecap="round" stroke-linejoin="round"/>
<g transform="translate(14.1 217.4) rotate(-90)"><path d="M1.88 -9.87 L1.88 0.00 M7.52 -6.58 L6.58 -6.11 L5.64 -5.17 L5.17 -3.76 L5.17 -2.82 L5.64 -1.41 L6.58 -0.47 L7.52 0.00 L8.93 0.00 L9.87 -0.47 L10.81 -1.41 L11.28 -2.82 L11.28 -3.76 L10.81 -5.17 L9.87 -6.11 L8.93 -6.58 L7.52 -6.58 M19.74 -6.58 L19.74 0.94 L19.27 2.35 L18.80 2.82 L17.86 3.29 L16.45 3.29 L15.51 2.82 M19.74 -5.17 L18.80 -6.11 L17.86 -6.58 L16.45 -6.58 L15.51 -6.11 L14.57 -5.17 L14.10 -3.76 L14.10 -2.82 L14.57 -1.41 L15.51 -0.47 L16.45 0.00 L17.86 0.00 L18.80 -0.47 L19.74 -1.41 M26.79 -11.75 L25.85 -10.81 L24.91 -9.40 L23.97 -7.52 L23.50 -5.17 L23.50 -3.29 L23.97 -0.94 L24.91 0.94 L25.85 2.35 L26.79 3.29 M29.61 -6.58 L31.02 -6.58 L30.55 -3.76 L30.08 -1.41 L29.61 0.00 M35.72 -6.58 L35.25 -5.17 L34.78 -4.23 L33.84 -2.82 L32.43 -1.41 L31.02 -0.47 L29.61 0.00 M29.82 -6.58 L31.23 -6.58 L30.76 -3.76 L30.29 -1.41 L29.82 0.00 M35.93 -6.58 L35.46 -5.17 L34.99 -4.23 L34.05 -2.82 L32.64 -1.41 L31.23 -0.47 L29.82 0.00 M38.54 -9.87 L38.54 0.00 M38.54 0.00 L44.18 0.00 M45.52 -0.43 L46.40 -0.43 L46.11 1.32 L45.82 2.78 L45.52 3.65 M49.31 -0.43 L49.02 0.44 L48.73 1.03 L48.15 1.90 L47.27 2.78 L46.40 3.36 L45.52 3.65 M45.66 -0.43 L46.53 -0.43 L46.24 1.32 L45.95 2.78 L45.66 3.65 M49.44 -0.43 L49.15 0.44 L48.86 1.03 L48.28 1.90 L47.40 2.78 L46.53 3.36 L45.66 3.65 M51.31 -11.75 L52.25 -10.81 L53.19 -9.40 L54.13 -7.52 L54.60 -5.17 L54.60 -3.29 L54.13 -0.94 L53.19 0.94 L52.25 2.35 L51.31 3.29 M65.88 -11.75 L65.88 3.29 M65.88 -11.75 L69.17 -11.75 M65.88 3.29 L69.17 3.29 M71.99 -3.76 L77.63 -3.76 L77.63 -4.70 L77.16 -5.64 L76.69 -6.11 L75.75 -6.58 L74.34 -6.58 L73.40 -6.11 L72.46 -5.17 L71.99 -3.76 L71.99 -2.82 L72.46 -1.41 L73.40 -0.47 L74.34 0.00 L75.75 0.00 L76.69 -0.47 L77.63 -1.41 M80.92 -6.58 L80.92 0.00 M80.92 -3.76 L81.39 -5.17 L82.33 -6.11 L83.27 -6.58 L84.68 -6.58 M92.20 -6.58 L92.20 0.94 L91.73 2.35 L91.26 2.82 L90.32 3.29 L88.91 3.29 L87.97 2.82 M92.20 -5.17 L91.26 -6.11 L90.32 -6.58 L88.91 -6.58 L87.97 -6.11 L87.03 -5.17 L86.56 -3.76 L86.56 -2.82 L87.03 -1.41 L87.97 -0.47 L88.91 0.00 L90.32 0.00 L91.26 -0.47 L92.20 -1.41 M100.66 -5.17 L100.19 -6.11 L98.78 -6.58 L97.37 -6.58 L95.96 -6.11 L95.49 -5.17 L95.96 -4.23 L96.90 -3.76 L99.25 -3.29 L100.19 -2.82 L100.66 -1.88 L100.66 -1.41 L100.19 -0.47 L98.78 0.00 L97.37 0.00 L95.96 -0.47 L95.49 -1.41 M116.17 -5.17 L115.70 -6.11 L114.29 -6.58 L112.88 -6.58 L111.47 -6.11 L111.00 -5.17 L111.47 -4.23 L112.41 -3.76 L114.76 -3.29 L115.70 -2.82 L116.17 -1.88 L116.17 -1.41 L115.70 -0.47 L114.29 0.00 L112.88 0.00 L111.47 -0.47 L111.00 -1.41 M119.04 -9.73 L123.69 -9.73 M127.03 -11.79 L127.55 -12.05 L128.32 -12.83 L128.32 -7.40 M135.68 -11.75 L135.68 3.29 M132.39 -11.75 L135.68 -11.75 M132.39 3.29 L135.68 3.29" stroke="#000" stroke-width="0.52" fill="none" stroke-linecap="round" stroke-linejoin="round"/></g>
</svg>
</body></html>
